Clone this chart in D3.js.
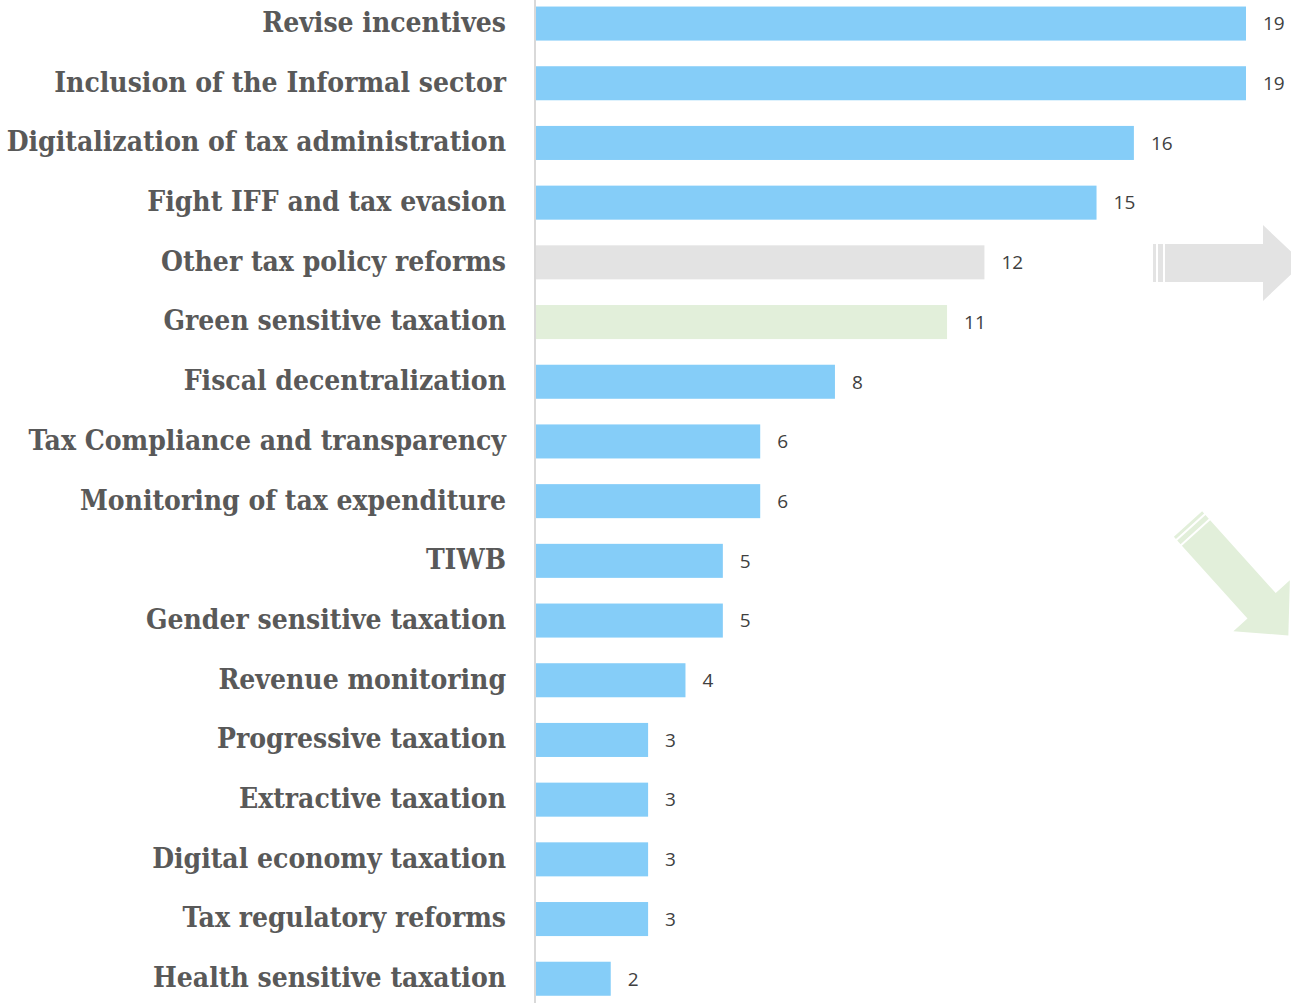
<!DOCTYPE html>
<html>
<head>
<meta charset="utf-8">
<script src="https://cdn.jsdelivr.net/npm/d3@7"></script>
<style>
  html, body { margin: 0; padding: 0; background: #ffffff; }
  svg { display: block; }
</style>
</head>
<body>
<script>
// Measures, ordered top to bottom
const categories = [
  "Revise incentives",
  "Inclusion of the Informal sector",
  "Digitalization of tax administration",
  "Fight IFF and tax evasion",
  "Other tax policy reforms",
  "Green sensitive taxation",
  "Fiscal decentralization",
  "Tax Compliance and transparency",
  "Monitoring of tax expenditure",
  "TIWB",
  "Gender sensitive taxation",
  "Revenue monitoring",
  "Progressive taxation",
  "Extractive taxation",
  "Digital economy taxation",
  "Tax regulatory reforms",
  "Health sensitive taxation"
];
const counts = [19, 19, 16, 15, 12, 11, 8, 6, 6, 5, 5, 4, 3, 3, 3, 3, 2];
const highlight = ["blue", "blue", "blue", "blue", "grey", "green", "blue", "blue", "blue", "blue", "blue", "blue", "blue", "blue", "blue", "blue", "blue"];

const palette = { blue: "#85cdf8", grey: "#e3e3e3", green: "#e2efda" };

const W = 1291, H = 1003;
const svg = d3.select("body").append("svg").attr("width", W).attr("height", H);

const x0 = 536;
const x = d3.scaleLinear().domain([0, 19]).range([x0, 1246]);
const y = d3.scaleBand().domain(categories).range([-6.3, 1008.6]).paddingInner(0.43).paddingOuter(0.215);

// Trend arrows in the right margin
function arrowPath() {
  // local frame: pointing right, centred on y = 0
  const bh = 19, hh = 38, bodyEnd = 110, tip = 150;
  return [
    `M0,${-bh}H3V${bh}H0Z`,
    `M5,${-bh}H10V${bh}H5Z`,
    `M12,${-bh}H${bodyEnd}V${-hh}L${tip},0L${bodyEnd},${hh}V${bh}H12Z`
  ].join("");
}
svg.append("path").attr("d", arrowPath())
  .attr("transform", "translate(1153,263)")
  .attr("fill", "#e3e3e3");
svg.append("path").attr("d", arrowPath())
  .attr("transform", "translate(1188,524) rotate(48)")
  .attr("fill", "#e2efda");

// bars
svg.append("g").selectAll("rect").data(categories).join("rect")
  .attr("x", x(0))
  .attr("y", d => y(d))
  .attr("width", (d, i) => x(counts[i]) - x(0))
  .attr("height", y.bandwidth())
  .attr("fill", (d, i) => palette[highlight[i]]);

// value labels
svg.append("g").selectAll("text").data(categories).join("text")
  .attr("x", (d, i) => x(counts[i]) + 17)
  .attr("y", d => y(d) + y.bandwidth() / 2)
  .attr("dy", "0.36em")
  .attr("font-family", "'Open Sans', sans-serif")
  .attr("font-size", 19)
  .attr("fill", "#404040")
  .text((d, i) => counts[i]);

// category axis
const axis = svg.append("g").attr("transform", `translate(${x0 - 1},0)`)
  .call(d3.axisLeft(y).tickSize(0).tickPadding(29));
axis.select(".domain").attr("d", `M0,0V${H}`).attr("stroke", "#d9d9d9").attr("stroke-width", 2);
axis.selectAll("text")
  .attr("font-family", "'DejaVu Serif', serif")
  .attr("font-stretch", "condensed")
  .attr("font-weight", "bold")
  .attr("font-size", 28)
  .attr("fill", "#595959")
  .attr("dy", "0.3em");
</script>
</body>
</html>
